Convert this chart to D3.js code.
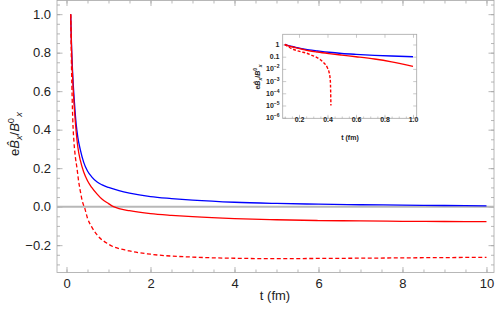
<!DOCTYPE html>
<html>
<head>
<meta charset="utf-8">
<script src="https://cdn.jsdelivr.net/npm/d3@7"></script>
<style>
  body { margin: 0; background: #fff; }
  svg { display: block; font-family: "Liberation Sans", Arial, sans-serif; }
</style>
</head>
<body>
<div id="chart"></div>
<script>
// data
var blueT = [0.1, 0.12, 0.15, 0.19, 0.23, 0.27, 0.33, 0.41, 0.5, 0.6, 0.73, 0.85, 1.0, 1.25, 1.5, 2, 2.5, 3, 4, 5, 6, 7, 8, 9, 10];
var blueV = [1.0, 0.84, 0.68, 0.54, 0.43, 0.36, 0.295, 0.23, 0.185, 0.155, 0.128, 0.113, 0.1, 0.083, 0.07, 0.052, 0.042, 0.034, 0.023, 0.017, 0.013, 0.01, 0.008, 0.006, 0.004];

var redT = [0.1, 0.12, 0.15, 0.19, 0.23, 0.27, 0.33, 0.41, 0.5, 0.6, 0.73, 0.85, 1.0, 1.12, 1.25, 1.5, 2, 2.5, 3, 4, 5, 6, 7, 8, 9, 10];
var redV = [1.0, 0.82, 0.65, 0.5, 0.39, 0.31, 0.24, 0.18, 0.135, 0.1, 0.065, 0.038, 0.016, 0, -0.01, -0.021, -0.036, -0.045, -0.052, -0.062, -0.068, -0.072, -0.074, -0.076, -0.077, -0.078];

var dashT = [0.1, 0.12, 0.15, 0.18, 0.21, 0.25, 0.29, 0.33, 0.37, 0.4, 0.41, 0.42, 0.424, 0.43, 0.5, 0.6, 0.73, 1, 1.5, 2, 3, 4, 5, 6, 8, 10];
var dashV = [1.0, 0.72, 0.45, 0.33, 0.26, 0.2, 0.13, 0.08, 0.035, 0.012, 0.006, 0.001, 0.00001, -0.004, -0.06, -0.105, -0.147, -0.195, -0.23, -0.247, -0.262, -0.268, -0.27, -0.269, -0.266, -0.263];

var xTicks = [0, 2, 4, 6, 8, 10];
var yTicks = [-0.2, 0, 0.2, 0.4, 0.6, 0.8, 1.0];
var insetXTicks = [0.2, 0.4, 0.6, 0.8, 1.0];
var insetYTicks = [1, 0.1, 1e-2, 1e-3, 1e-4, 1e-5, 1e-6];

function pairs(ts, vs) {
  return ts.map(function (t, i) { return { t: t, v: vs[i] }; });
}
var series = [
  { data: pairs(blueT, blueV), color: '#0000ff', dash: null },
  { data: pairs(redT, redV), color: '#ff0000', dash: null },
  { data: pairs(dashT, dashV), color: '#ff0000', dash: '4,2.5' }
];

var W = 498, H = 313;
var frameCol = '#a6a6a6';
var svg = d3.select('#chart').append('svg').attr('width', W).attr('height', H);

// main plot scales
var x = d3.scaleLinear().domain([-0.226, 10.179]).range([57, 494]);
var y = d3.scaleLinear().domain([1.071, -0.342]).range([0.5, 272.5]);

function minorRange(a, b, s) {
  var out = [];
  for (var v = a; v <= b + 1e-9; v += s) out.push(+v.toFixed(4));
  return out;
}
var fmtY = function (d) { return (d < 0 ? '\u2212' : '') + Math.abs(d).toFixed(1); };

function styleAxis(g) {
  g.select('.domain').remove();
  g.selectAll('line').attr('stroke', frameCol).attr('stroke-width', 0.8);
  g.selectAll('text').attr('fill', '#222');
}

// minor ticks
[['bottom', 272.5], ['top', 0.5]].forEach(function (p) {
  var ax = (p[0] === 'bottom' ? d3.axisBottom(x) : d3.axisTop(x))
    .tickValues(minorRange(0, 10, 0.5)).tickSize(-3).tickFormat('');
  svg.append('g').attr('transform', 'translate(0,' + p[1] + ')').call(ax).call(styleAxis);
});
[['left', 57], ['right', 494]].forEach(function (p) {
  var ax = (p[0] === 'left' ? d3.axisLeft(y) : d3.axisRight(y))
    .tickValues(minorRange(-0.3, 1.05, 0.05)).tickSize(-3).tickFormat('');
  svg.append('g').attr('transform', 'translate(' + p[1] + ',0)').call(ax).call(styleAxis);
});

// major ticks
svg.append('g').attr('transform', 'translate(0,272.5)')
  .call(d3.axisBottom(x).tickValues(xTicks).tickSize(-5.5).tickPadding(6).tickFormat(d3.format('d')))
  .call(styleAxis)
  .selectAll('text').attr('font-size', 13);
svg.append('g').attr('transform', 'translate(0,0.5)')
  .call(d3.axisTop(x).tickValues(xTicks).tickSize(-5.5).tickFormat('')).call(styleAxis);
svg.append('g').attr('transform', 'translate(57,0)')
  .call(d3.axisLeft(y).tickValues(yTicks).tickSize(-5.5).tickFormat(fmtY))
  .call(styleAxis)
  .selectAll('text').attr('font-size', 13).attr('x', -6);
svg.append('g').attr('transform', 'translate(494,0)')
  .call(d3.axisRight(y).tickValues(yTicks).tickSize(-5.5).tickFormat('')).call(styleAxis);

// frame
svg.append('rect').attr('x', 57).attr('y', 0.5).attr('width', 437).attr('height', 272)
  .attr('fill', 'none').attr('stroke', frameCol).attr('stroke-width', 0.8);

// zero line
svg.append('line').attr('x1', x.range()[0]).attr('x2', x.range()[1])
  .attr('y1', y(0)).attr('y2', y(0)).attr('stroke', '#b8b8b8').attr('stroke-width', 2);

var line = d3.line().x(function (d) { return x(d.t); }).y(function (d) { return y(d.v); })
  .curve(d3.curveMonotoneX);
series.forEach(function (s) {
  svg.append('path').datum(s.data).attr('d', line)
    .attr('fill', 'none').attr('stroke', s.color).attr('stroke-width', 1.3)
    .attr('stroke-dasharray', s.dash);
});

// axis labels
svg.append('text').attr('x', 275).attr('y', 300).attr('text-anchor', 'middle')
  .attr('font-size', 13).attr('fill', '#222').text('t (fm)');

function yLabel(g, size) {
  var t = g.append('text').attr('text-anchor', 'middle').attr('font-size', size).attr('fill', '#222');
  t.append('tspan').text('e');
  t.append('tspan').attr('font-style', 'italic').text('B\u0302');
  t.append('tspan').attr('font-style', 'italic').attr('font-size', size * 0.72).attr('dy', size * 0.25).text('x');
  t.append('tspan').attr('dy', -size * 0.25).text('/');
  t.append('tspan').attr('font-style', 'italic').text('B');
  t.append('tspan').attr('font-size', size * 0.72).attr('dy', -size * 0.4).text('0');
  t.append('tspan').attr('font-style', 'italic').attr('font-size', size * 0.72).attr('dy', size * 0.65).attr('dx', size * 0.1).text('x');
  return t;
}
yLabel(svg.append('g').attr('transform', 'translate(19,134) rotate(-90)'), 13);

// ---- inset (log scale) ----
var ix = d3.scaleLinear().domain([0.0856, 1.026]).range([282.7, 416.7]);
var iy = d3.scaleLog().domain([Math.pow(10, 0.836), Math.pow(10, -6.05)]).range([34.3, 118.3]);

svg.append('rect').attr('x', 282.7).attr('y', 34.3).attr('width', 134).attr('height', 84)
  .attr('fill', '#fff').attr('stroke', frameCol).attr('stroke-width', 0.8);

var inset = svg.append('g');
function styleInset(g) {
  g.select('.domain').remove();
  g.selectAll('line').attr('stroke', frameCol).attr('stroke-width', 0.6);
  g.selectAll('text').attr('fill', '#222').attr('font-size', 7).attr('font-weight', 'bold');
}
inset.append('g').attr('transform', 'translate(0,118.3)')
  .call(d3.axisBottom(ix).tickValues(minorRange(0.1, 1, 0.05)).tickSize(-1.8).tickFormat(''))
  .call(styleInset);
inset.append('g').attr('transform', 'translate(0,118.3)')
  .call(d3.axisBottom(ix).tickValues(insetXTicks).tickSize(-3.5).tickPadding(-1).tickFormat(d3.format('.1f')))
  .call(styleInset);
inset.append('g').attr('transform', 'translate(0,34.3)')
  .call(d3.axisTop(ix).tickValues(insetXTicks).tickSize(-3.5).tickFormat('')).call(styleInset);
inset.append('g').attr('transform', 'translate(282.7,0)')
  .call(d3.axisLeft(iy).tickValues(insetYTicks).tickSize(-3.5).tickPadding(-1).tickFormat(''))
  .call(styleInset);
inset.append('g').attr('transform', 'translate(416.7,0)')
  .call(d3.axisRight(iy).tickValues(insetYTicks).tickSize(-3.5).tickFormat('')).call(styleInset);

// inset y tick labels with superscripts
insetYTicks.forEach(function (v) {
  var t = inset.append('text').attr('x', 279.5).attr('y', iy(v) + 2.5)
    .attr('text-anchor', 'end').attr('font-size', 7).attr('font-weight', 'bold').attr('fill', '#222');
  if (v >= 0.1) {
    t.text(v === 1 ? '1' : '0.1');
  } else {
    var e = Math.round(Math.log10(v));
    t.append('tspan').text('10');
    t.append('tspan').attr('font-size', 5).attr('dy', -3).text('\u2212' + Math.abs(e));
  }
});

var iline = d3.line().x(function (d) { return ix(d.t); }).y(function (d) { return iy(d.v); })
  .curve(d3.curveMonotoneX);
series.forEach(function (s) {
  var pts = s.data.filter(function (d) { return d.v > 0 && d.t <= 1.0; });
  inset.append('path').datum(pts).attr('d', iline)
    .attr('fill', 'none').attr('stroke', s.color).attr('stroke-width', 1.4)
    .attr('stroke-dasharray', s.dash ? '3,1.8' : null);
});

inset.append('text').attr('x', 350).attr('y', 139.5).attr('text-anchor', 'middle')
  .attr('font-size', 7).attr('font-weight', 'bold').attr('fill', '#222').text('t (fm)');
yLabel(inset.append('g').attr('transform', 'translate(260,77) rotate(-90)'), 7)
  .attr('font-weight', 'bold');
</script>
</body>
</html>
